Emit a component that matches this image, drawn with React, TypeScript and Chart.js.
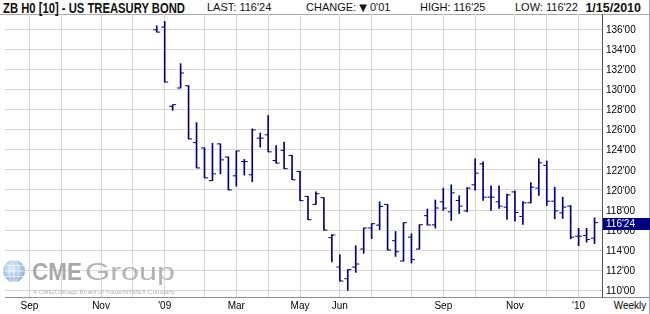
import React, { useEffect, useRef } from 'react';
import { Chart, registerables } from 'chart.js';

Chart.register(...registerables);

// Week-ending dates of the weekly bars (ZB H0, March 2010 T-Bond)
const weekEnding = [
  '2008-12-26',
  '2009-01-02', '2009-01-09', '2009-01-16', '2009-01-23', '2009-01-30',
  '2009-02-06', '2009-02-13', '2009-02-20', '2009-02-27',
  '2009-03-06', '2009-03-13', '2009-03-20', '2009-03-27',
  '2009-04-03', '2009-04-10', '2009-04-17', '2009-04-24',
  '2009-05-01', '2009-05-08', '2009-05-15', '2009-05-22', '2009-05-29',
  '2009-06-05', '2009-06-12', '2009-06-19', '2009-06-26',
  '2009-07-03', '2009-07-10', '2009-07-17', '2009-07-24', '2009-07-31',
  '2009-08-07', '2009-08-14', '2009-08-21', '2009-08-28',
  '2009-09-04', '2009-09-11', '2009-09-18', '2009-09-25',
  '2009-10-02', '2009-10-09', '2009-10-16', '2009-10-23', '2009-10-30',
  '2009-11-06', '2009-11-13', '2009-11-20', '2009-11-27',
  '2009-12-04', '2009-12-11', '2009-12-18', '2009-12-25',
  '2010-01-01', '2010-01-08', '2010-01-15',
];

const openPrice = [
  135.93, 136.2, 128.32, 130.14, 130.37, 124.71, 124.18, 120.93, 124.58, 123.28,
  121.4, 122.82, 121.51, 125.15, 125.48, 122.93, 123.93, 123.43, 121.84, 119.36,
  118.56, 119.23, 115.25, 112.33, 111.17, 112.33, 114.12, 116.21, 116.5, 118.56,
  114.95, 112.93, 115.31, 114.12, 117.44, 116.52, 118.82, 117.82, 118.95, 117.92,
  120.51, 122.6, 119.28, 118.82, 118.29, 119.8, 117.36, 118.72, 120.18, 122.44,
  118.88, 117.72, 118.39, 115.4, 115.46, 115.2,
];
const highPrice = [
  136.33, 136.76, 128.48, 132.56, 130.37, 126.7, 124.18, 124.64, 124.58, 123.28,
  123.88, 123.04, 126.08, 125.65, 127.4, 124.42, 124.75, 123.43, 121.84, 119.36,
  119.82, 119.23, 115.55, 113.56, 112.07, 114.45, 116.21, 116.64, 118.82, 118.56,
  115.87, 116.74, 115.64, 116.54, 118.1, 119.0, 120.18, 120.51, 119.42, 120.25,
  123.1, 122.8, 120.41, 120.41, 119.58, 119.9, 118.85, 120.74, 123.1, 122.87,
  120.28, 119.28, 118.45, 116.19, 116.19, 117.22,
];
const lowPrice = [
  135.7, 130.73, 127.92, 130.14, 125.07, 122.19, 121.2, 120.93, 121.6, 120.0,
  120.37, 121.47, 120.81, 124.26, 123.79, 122.67, 122.11, 121.01, 118.93, 117.04,
  118.56, 116.01, 112.83, 110.94, 110.01, 111.8, 113.69, 115.15, 116.04, 114.02,
  113.39, 112.93, 112.73, 114.12, 116.51, 116.2, 117.95, 116.96, 117.65, 117.82,
  119.98, 118.95, 117.95, 118.15, 117.06, 116.9, 116.56, 118.72, 119.45, 118.45,
  117.12, 117.16, 115.13, 114.46, 114.8, 114.66,
];
const closePrice = [
  135.7, 130.73, 128.48, 131.63, 125.07, 122.19, 121.2, 121.6, 122.99, 120.0,
  123.88, 122.82, 125.98, 125.15, 123.79, 122.67, 122.11, 121.01, 118.93, 117.04,
  119.62, 116.01, 115.52, 110.94, 112.07, 112.63, 116.21, 116.64, 118.36, 114.02,
  113.85, 116.74, 113.06, 116.54, 116.51, 118.2, 118.19, 119.71, 118.39, 120.18,
  121.67, 119.28, 119.28, 118.39, 119.51, 117.75, 118.72, 120.28, 122.7, 118.88,
  117.92, 118.29, 115.3, 115.4, 115.06, 116.75,
];

// Month gridlines (week index of first week of each month) and their labels
const monthWeeks = [-16, -12, -7, -3, 1, 6, 10, 14, 18, 23, 27, 32, 36, 40, 45, 49, 53];
const monthLabels = ['Sep', '', 'Nov', '', "'09", '', 'Mar', '', 'May', 'Jun', '', '', 'Sep', '', 'Nov', '', "'10"];
const priceTicks = [110, 112, 114, 116, 118, 120, 122, 124, 126, 128, 130, 132, 134, 136];
const lastLabel = "116'24";

const NAVY = '#000080';
const GRID = '#d7d7d7';
const X_MIN = -19.0625;
const X_MAX = 55.9375;
const Y_MIN = 109.35;
const Y_MAX = 137.5;
const SANS = '"Liberation Sans", Arial, sans-serif';
const NARROW = '"Liberation Sans Narrow", "Liberation Sans", Arial, sans-serif';

export default function App() {
  const ref = useRef<HTMLCanvasElement>(null);

  useEffect(() => {
    const idx = weekEnding.map((_, i) => i);
    const lastBox = {
      id: 'lastBox',
      afterDraw(chart: any) {
        const { ctx, chartArea, scales } = chart;
        const y = scales.y.getPixelForValue(closePrice[closePrice.length - 1]) + 1.5;
        const top = Math.round(y - 6);
        ctx.save();
        ctx.fillStyle = NAVY;
        ctx.fillRect(chartArea.right + 1, top, 47, 12);
        ctx.fillStyle = '#ffffff';
        ctx.font = '10px ' + SANS;
        ctx.textBaseline = 'middle';
        ctx.textAlign = 'left';
        ctx.fillText(lastLabel, chartArea.right + 4, top + 6.5);
        ctx.restore();
      },
    };

    const chart = new Chart(ref.current as HTMLCanvasElement, {
      type: 'bar',
      data: {
        datasets: [
          {
            type: 'bar',
            data: idx.map((i) => ({ x: i, y: [lowPrice[i], highPrice[i]] })) as any,
            backgroundColor: NAVY,
            borderWidth: 0,
            barThickness: 1,
          } as any,
          {
            type: 'scatter',
            data: idx.map((i) => ({ x: i, y: openPrice[i] })),
            pointStyle: 'dash',
            pointRotation: 180,
            pointRadius: 3.5,
            pointBorderWidth: 1,
            pointBorderColor: NAVY,
            pointBackgroundColor: NAVY,
          } as any,
          {
            type: 'scatter',
            data: idx.map((i) => ({ x: i, y: closePrice[i] })),
            pointStyle: 'dash',
            pointRotation: 0,
            pointRadius: 3.5,
            pointBorderWidth: 1,
            pointBorderColor: NAVY,
            pointBackgroundColor: NAVY,
          } as any,
        ],
      },
      options: {
        animation: false,
        responsive: false,
        maintainAspectRatio: false,
        events: [],
        layout: { padding: { left: 2, top: 14, right: 0, bottom: 0 } },
        plugins: { legend: { display: false }, tooltip: { enabled: false } },
        scales: {
          x: {
            type: 'linear',
            min: X_MIN,
            max: X_MAX,
            offset: false,
            afterBuildTicks: (axis: any) => {
              axis.ticks = monthWeeks.map((v) => ({ value: v }));
            },
            afterFit: (axis: any) => {
              axis.height = 17;
            },
            grid: { color: GRID, drawTicks: false, offset: false },
            border: { display: true, color: '#8c8c8c' },
            ticks: {
              autoSkip: false,
              maxRotation: 0,
              padding: 3,
              color: '#000',
              font: { family: SANS, size: 10 },
              callback: (_v: any, i: number) => monthLabels[i],
            },
          },
          y: {
            type: 'linear',
            position: 'right',
            min: Y_MIN,
            max: Y_MAX,
            afterBuildTicks: (axis: any) => {
              axis.ticks = priceTicks.map((v) => ({ value: v }));
            },
            afterFit: (axis: any) => {
              axis.width = 48;
            },
            grid: { color: GRID, drawTicks: false },
            border: { display: true, color: '#555555' },
            ticks: {
              padding: 4,
              labelOffset: 1,
              color: '#000',
              font: { family: SANS, size: 10 },
              callback: (v: any) => `${v}'00`,
            },
          },
        },
      } as any,
      plugins: [lastBox],
    });
    return () => chart.destroy();
  }, []);

  return (
    <div style={{ position: 'fixed', left: 0, top: 0, width: 650, height: 314, background: '#fff', overflow: 'hidden' }}>
      <svg width={650} height={314} style={{ position: 'absolute', left: 0, top: 0 }}>
        <line x1={0} y1={14.5} x2={650} y2={14.5} stroke="#a8a8a8" strokeWidth={1} />
        <line x1={602} y1={297.5} x2={650} y2={297.5} stroke="#8c8c8c" strokeWidth={1} />
        <line x1={649.5} y1={0} x2={649.5} y2={314} stroke="#a8a8a8" strokeWidth={1} />
        <text x={3} y={12.5} fontFamily={NARROW} fontWeight="bold" fontSize={14} fill="#111" textLength={182} lengthAdjust="spacingAndGlyphs">
          ZB H0 [10] - US TREASURY BOND
        </text>
        <text x={207} y={11} fontFamily={SANS} fontSize={11} fill="#111">LAST: 116'24</text>
        <text x={306} y={11} fontFamily={SANS} fontSize={11} fill="#111">
          CHANGE: <tspan fontFamily="DejaVu Sans" fontSize={10}>▼</tspan> 0'01
        </text>
        <text x={420} y={11} fontFamily={SANS} fontSize={11} fill="#111">HIGH: 116'25</text>
        <text x={515} y={11} fontFamily={SANS} fontSize={11} fill="#111">LOW: 116'22</text>
        <text x={641} y={12} textAnchor="end" fontFamily={SANS} fontWeight="bold" fontSize={12.5} fill="#111">1/15/2010</text>
        <text x={630} y={309} textAnchor="middle" fontFamily={SANS} fontSize={10} fill="#000">Weekly</text>
      </svg>
      <canvas ref={ref} width={650} height={314} style={{ position: 'absolute', left: 0, top: 0 }} />
      <svg width={650} height={314} style={{ position: 'absolute', left: 0, top: 0, pointerEvents: 'none' }}>
        <defs>
          <radialGradient id="globe" cx="40%" cy="38%" r="65%">
            <stop offset="0" stopColor="#dce9f6" />
            <stop offset="1" stopColor="#8db2da" />
          </radialGradient>
        </defs>
        <circle cx={14} cy={271} r={11} fill="url(#globe)" />
        <g stroke="#ffffff" strokeWidth={0.8} fill="none" opacity={0.85}>
          <ellipse cx={14} cy={271} rx={5} ry={11} />
          <line x1={14} y1={260} x2={14} y2={282} />
          <line x1={3} y1={271} x2={25} y2={271} />
          <line x1={4.6} y1={265.5} x2={23.4} y2={265.5} />
          <line x1={4.6} y1={276.5} x2={23.4} y2={276.5} />
        </g>
        <text x={32} y={279.5} fontFamily={SANS} fontWeight="bold" fontSize={24.5} fill="#a9a9a9" textLength={50} lengthAdjust="spacingAndGlyphs">CME</text>
        <text x={85} y={279.5} fontFamily={SANS} fontSize={24.5} fill="#b4b4b4" textLength={90} lengthAdjust="spacingAndGlyphs">Group</text>
        <text x={33} y={294} fontFamily={SANS} fontSize={6} fill="#b4b4b4" textLength={142} lengthAdjust="spacingAndGlyphs">A CME/Chicago Board of Trade/NYMEX Company</text>
      </svg>
    </div>
  );
}
